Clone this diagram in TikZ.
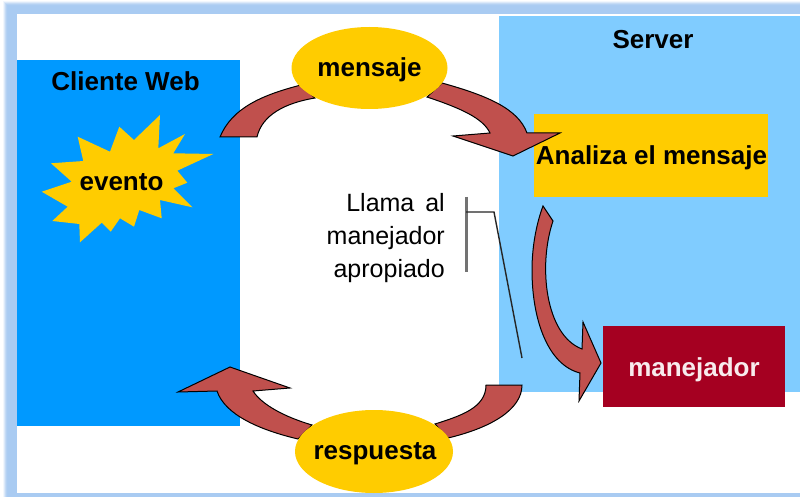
\documentclass[tikz,border=0pt]{standalone}
\usepackage{fontspec}
\setmainfont{Liberation Sans}
\definecolor{framec}{HTML}{A9CBF2}
\definecolor{clientc}{HTML}{0099FF}
\definecolor{serverc}{HTML}{80CCFF}
\definecolor{goldc}{HTML}{FFCC00}
\definecolor{darkred}{HTML}{A50021}
\definecolor{arrowc}{HTML}{C0504D}
\newcommand{\px}[1]{\fontsize{#1}{#1}\selectfont}
\usetikzlibrary{shapes.geometric}
\tikzset{
  panel/.style={anchor=north west,inner sep=0pt,draw=none},
  blockarrow/.style={fill=arrowc,draw=black,line width=1pt,line join=miter},
  bubble/.style={ellipse,fill=goldc,draw=none,inner sep=0pt},
  title/.style={font=\bfseries\px{26},text=black,inner sep=0pt},
  callout/.style={line width=1.4pt,draw=black!85}
}
\begin{document}
\begin{tikzpicture}[x=1pt,y=-1pt]
\useasboundingbox (0,0) rectangle (800,497);
% soft frame
\fill[white] (0,0) rectangle (800,497);
\foreach \i/\o in {0/15,1/30,2/45,3/60,4/75,5/90,6/100}{
  \fill[framec,opacity=\o/100] ({3+\i},{1+\i}) rectangle (800,{497}) ;
}
\fill[white] (17,14) rectangle (800,493);
% panels
\node[panel,fill=clientc,minimum width=223pt,minimum height=366pt] (client) at (17,60) {};
\node[panel,fill=serverc,minimum width=301pt,minimum height=376pt] (server) at (499,16) {};
\node[panel,fill=goldc,minimum width=234pt,minimum height=83pt] (analiza) at (534,114) {};
\node[panel,fill=darkred,minimum width=182pt,minimum height=81pt] (handler) at (603,326) {};
% star
\fill[goldc] (160,115)--(158.3,148.3)--(185,134)--(173.3,153.3)--(213.3,154)--(177.3,170.7)--(187.3,182.7)--(173.3,188.3)--(192.3,207.3)--(160,200)--(161.7,218.3)--(139.3,210)--(134,226.7)--(120,218.3)--(110.7,231.7)--(101.7,222.7)--(80,242.3)--(79.3,224)--(52.3,221)--(67.7,206.7)--(41.7,191.7)--(71.7,181.7)--(51,163.3)--(83.3,161)--(77.7,136.7)--(110,151.7)--(119.3,126.7)--(134,140)--cycle;
% block arrows
\draw[blockarrow] (220,137) .. controls (232,108) and (262,95) .. (301,85) -- (315,98) .. controls (285,103) and (262,115) .. (257,137) -- cycle;
\draw[blockarrow] (442,83) .. controls (485,95) and (518,108) .. (527,133) -- (560,133) -- (513,156) -- (453,136) -- (490,133) .. controls (483,118) and (460,108) .. (427,97) -- cycle;
\draw[blockarrow] (298,439) .. controls (260,430) and (225,415) .. (217,391) -- (178,392) -- (230,367) -- (290,388) -- (253,391) .. controls (262,405) and (285,417) .. (312,425) -- cycle;
\draw[blockarrow] (486,385) -- (522,385) .. controls (522,410) and (490,428) .. (448,438) -- (435,424) .. controls (460,416) and (486,408) .. (486,385) -- cycle;
\draw[blockarrow] (543,206) -- (553,221) .. controls (538,265) and (545,335) .. (582,349) -- (583,322) -- (601,363) -- (579,401) -- (580,373) .. controls (548,365) and (532,320) .. (532,270) .. controls (532,245) and (537,222) .. (543,206) -- cycle;
% bubbles
\node[bubble,minimum width=156pt,minimum height=82pt] (mensaje) at (369.5,68) {};
\node[bubble,minimum width=158pt,minimum height=83pt] (respuesta) at (374,451.5) {};
% labels
\node[title] (lmensaje) at (369.5,70) {mensaje};
\node[title] (lrespuesta) at (375,454) {respuesta};
\node[title] (lclient) at (125.5,81) {Cliente Web};
\node[title] (lserver) at (653,40) {Server};
\node[title] (levento) at (121.5,182) {evento};
\node[title] (lanaliza) at (651.5,158) {Analiza el mensaje};
\node[title,text=white!92!darkred] (lhandler) at (694,370) {manejador};
\node[anchor=east,align=right,inner sep=0pt,font=\fontsize{25}{33}\selectfont] (lcall) at (445,238) {Llama\hspace{4pt} al\\manejador\\apropiado};
% callout
\coordinate (ca) at (466,197);
\coordinate (cb) at (466,272);
\coordinate (cc) at (466,212);
\coordinate (cd) at (494,212);
\coordinate (ce) at (522,358);
\draw[line width=3pt,draw=black!55] (ca) -- (cb);
\draw[callout] (cc) -- (cd) -- (ce);
\end{tikzpicture}
\end{document}
